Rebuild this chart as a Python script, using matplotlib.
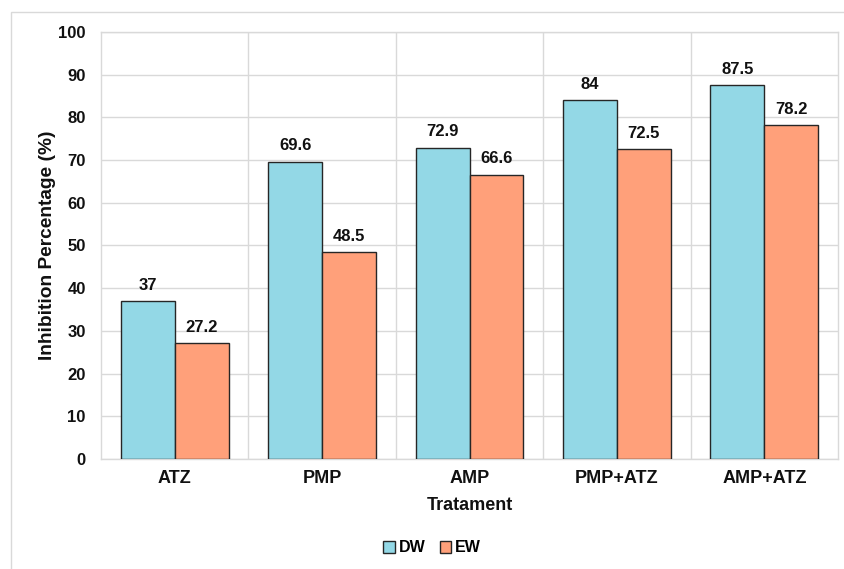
import matplotlib
matplotlib.use("Agg")
import matplotlib.pyplot as plt
import numpy as np
from matplotlib.patches import Rectangle, Patch

categories = ["ATZ", "PMP", "AMP", "PMP+ATZ", "AMP+ATZ"]
dw_values = [37, 69.6, 72.9, 84, 87.5]
ew_values = [27.2, 48.5, 66.6, 72.5, 78.2]
series_names = ["DW", "EW"]
y_ticks = [0, 10, 20, 30, 40, 50, 60, 70, 80, 90, 100]

plt.rcParams["font.family"] = ["Liberation Sans", "DejaVu Sans"]
plt.rcParams["font.weight"] = "bold"

W, H = 844, 569
fig = plt.figure(figsize=(W / 100, H / 100), dpi=100)
ax = fig.add_axes([101 / W, 1 - 459 / H, (838 - 101) / W, (459 - 32) / H])

grid_c = "#d9d9d9"
dw_c = "#93d8e6"
ew_c = "#ffa07a"
edge_c = "#262626"
text_c = "#111111"

x = np.arange(len(categories))
bw = 0.365
b1 = ax.bar(x - bw / 2, dw_values, bw, color=dw_c, edgecolor=edge_c, linewidth=1.0, zorder=3)
b2 = ax.bar(x + bw / 2, ew_values, bw, color=ew_c, edgecolor=edge_c, linewidth=1.0, zorder=3)

for bars, vals in ((b1, dw_values), (b2, ew_values)):
    for rect, v in zip(bars, vals):
        ax.annotate(f"{v:g}", (rect.get_x() + rect.get_width() / 2, v),
                    xytext=(0, 6), textcoords="offset points",
                    ha="center", va="bottom", fontsize=12, fontweight="bold", color=text_c)

ax.set_xlim(-0.5, len(categories) - 0.5)
ax.set_ylim(0, 100)
ax.set_yticks(y_ticks)
ax.set_xticks(x)
ax.set_xticklabels(categories)
ax.tick_params(axis="both", length=0, colors=text_c)
ax.tick_params(axis="y", pad=11, labelsize=12)
ax.tick_params(axis="x", pad=8, labelsize=13)
for lbl in ax.get_xticklabels() + ax.get_yticklabels():
    lbl.set_fontweight("bold")

# horizontal grid plus separators between categories
ax.yaxis.grid(True, color=grid_c, linewidth=1.0, zorder=0)
for b in np.arange(0.5, len(categories) - 0.5, 1):
    ax.axvline(b, color=grid_c, linewidth=1.0, zorder=0)
for s in ax.spines.values():
    s.set_color(grid_c)
    s.set_linewidth(1.0)

ax.set_ylabel("Inhibition Percentage (%)", fontsize=13.8, fontweight="bold", labelpad=1.5, color=text_c)
ax.set_xlabel("Tratament", fontsize=13, fontweight="bold", labelpad=7, color=text_c)

handles = [Patch(facecolor=dw_c, edgecolor=edge_c, linewidth=1.0),
           Patch(facecolor=ew_c, edgecolor=edge_c, linewidth=1.0)]
fig.legend(handles, series_names, loc="center", bbox_to_anchor=(432 / W, 1 - 548 / H),
           ncol=2, frameon=False, handlelength=0.7, handleheight=0.7,
           handletextpad=0.25, columnspacing=0.9, prop={"weight": "bold", "size": 11.5})

# outer frame around the chart area
fig.patches.append(Rectangle((11 / W, -0.05), 1.2, 1 - 12 / H + 0.05, transform=fig.transFigure,
                             fill=False, edgecolor="#d9d9d9", linewidth=1.0))

fig.savefig("out.png", dpi=100)
